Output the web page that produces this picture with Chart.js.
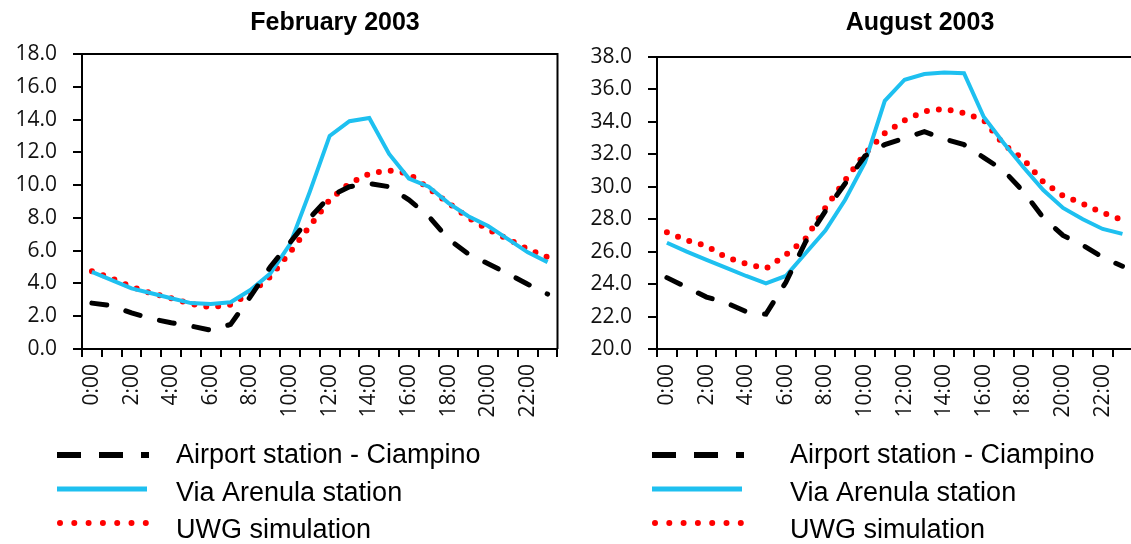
<!DOCTYPE html>
<html>
<head>
<meta charset="utf-8">
<script src="https://cdn.jsdelivr.net/npm/chart.js@4.4.1/dist/chart.umd.min.js"></script>
<style>
  html, body { margin: 0; padding: 0; background: #fff; overflow: hidden; }
  canvas { position: absolute; top: 0; }
  #feb { left: 0; }
  #aug { left: 575px; }
</style>
</head>
<body>
<canvas id="feb" width="580" height="544"></canvas>
<canvas id="aug" width="580" height="544"></canvas>
<script>
// horas del dia (eje x)
var hours = ['0:00','1:00','2:00','3:00','4:00','5:00','6:00','7:00','8:00','9:00','10:00','11:00',
             '12:00','13:00','14:00','15:00','16:00','17:00','18:00','19:00','20:00','21:00','22:00','23:00'];

var seriesNames = ['Airport station - Ciampino', 'Via Arenula station', 'UWG simulation'];

// Febrero 2003
var febAirport = [2.8, 2.65, 2.2, 1.85, 1.6, 1.4, 1.15, 1.5, 3.2, 5.0, 6.5, 8.0, 9.3, 9.9, 10.1, 9.9, 9.1, 8.1, 6.7, 5.8, 5.2, 4.6, 3.95, 3.35];
var febVia     = [4.7, 4.2, 3.7, 3.4, 3.1, 2.8, 2.75, 2.85, 3.6, 4.6, 6.4, 9.6, 13.0, 13.9, 14.1, 11.9, 10.4, 9.9, 8.9, 8.1, 7.5, 6.7, 5.9, 5.3];
var febUwg     = [4.75, 4.3, 3.8, 3.4, 3.1, 2.75, 2.55, 2.7, 3.4, 4.4, 5.9, 7.5, 9.1, 10.1, 10.7, 10.9, 10.7, 9.8, 8.9, 8.0, 7.3, 6.7, 6.1, 5.6];

// Agosto 2003
var augAirport = [24.4, 23.8, 23.2, 22.85, 22.3, 22.15, 24.1, 26.6, 28.5, 30.2, 31.9, 32.6, 33.0, 33.4, 32.95, 32.6, 31.8, 31.0, 29.7, 28.1, 27.0, 26.4, 25.65, 25.1];
var augVia     = [26.55, 26.0, 25.5, 25.0, 24.5, 24.05, 24.5, 25.9, 27.3, 29.2, 31.5, 35.3, 36.6, 36.95, 37.05, 37.0, 34.3, 32.7, 31.2, 29.8, 28.7, 28.0, 27.4, 27.1];
var augUwg     = [27.2, 26.7, 26.35, 25.65, 25.25, 24.95, 25.8, 26.8, 28.7, 30.4, 32.05, 33.3, 34.1, 34.65, 34.8, 34.55, 34.1, 32.6, 31.7, 30.3, 29.45, 28.95, 28.4, 27.95];

var febTicks = [0, 18];
var augTicks = [20, 38];

var BLUE = '#1ec0f0';
var RED = '#ff0000';

// marco superior/derecho, titulo y leyenda dibujados a mano
var frameAndKey = {
  id: 'frameAndKey',
  afterDraw: function (chart, args, opts) {
    var ctx = chart.ctx, a = chart.chartArea;
    ctx.save();
    ctx.strokeStyle = '#000';
    ctx.lineWidth = 2;
    ctx.beginPath();
    ctx.moveTo(a.left - 9, a.top);
    ctx.lineTo(a.right, a.top);
    ctx.lineTo(a.right, a.bottom);
    ctx.stroke();

    ctx.fillStyle = '#000';
    ctx.font = 'bold 25px "Liberation Sans"';
    ctx.textAlign = 'center';
    ctx.textBaseline = 'middle';
    ctx.fillText(opts.title, opts.titleX, 23);

    var rows = [456, 494, 531];
    var lineY = [455, 489, 523];
    chart.data.datasets.forEach(function (ds, i) {
      ctx.beginPath();
      ctx.strokeStyle = ds.borderColor;
      if (i === 0) {
        ctx.lineWidth = 6; ctx.lineCap = 'butt'; ctx.setLineDash([24, 18]);
        ctx.moveTo(opts.keyX, lineY[i]); ctx.lineTo(opts.keyX + 92, lineY[i]);
      } else if (i === 1) {
        ctx.lineWidth = 5; ctx.lineCap = 'butt'; ctx.setLineDash([]);
        ctx.moveTo(opts.keyX, lineY[i]); ctx.lineTo(opts.keyX + 90, lineY[i]);
      } else {
        ctx.lineWidth = 6; ctx.lineCap = 'round'; ctx.setLineDash([0, 14.3]);
        ctx.moveTo(opts.keyX + 3, lineY[i]); ctx.lineTo(opts.keyX + 90, lineY[i]);
      }
      ctx.stroke();
      ctx.setLineDash([]);
      ctx.fillStyle = '#000';
      ctx.font = '27px "Liberation Sans"';
      ctx.textAlign = 'left';
      ctx.fillText(ds.label, opts.textX, rows[i]);
    });
    ctx.restore();
  }
};

function makeDatasets(airport, via, uwg) {
  return [
    { label: seriesNames[0], data: airport, borderColor: '#000', borderWidth: 5,
      borderDash: [15, 20], borderCapStyle: 'round', pointRadius: 0, tension: 0 },
    { label: seriesNames[1], data: via, borderColor: BLUE, borderWidth: 4,
      pointRadius: 0, tension: 0 },
    { label: seriesNames[2], data: uwg, borderColor: RED, borderWidth: 6,
      borderDash: [0, 12], borderCapStyle: 'round', pointRadius: 0, tension: 0 }
  ];
}

function makeChart(id, datasets, range, padTop, padRight, extra) {
  var tickFont = { family: 'Open Sans', size: 21 };
  return new Chart(document.getElementById(id), {
    type: 'line',
    data: { labels: hours, datasets: datasets },
    options: {
      responsive: false,
      animation: false,
      events: [],
      layout: { padding: { top: padTop, right: padRight, left: 0, bottom: 0 } },
      plugins: { legend: { display: false }, tooltip: { enabled: false }, frameAndKey: extra },
      scales: {
        x: {
          offset: true,
          ticks: {
            autoSkip: false, minRotation: 90, maxRotation: 90, padding: 7,
            color: '#111', font: tickFont,
            callback: function (v, i) { return i % 2 ? '' : this.getLabelForValue(v); }
          },
          grid: { offset: true, drawOnChartArea: false, tickLength: 8, color: '#000', lineWidth: 2 },
          border: { color: '#000', width: 2 },
          afterFit: function (s) { s.height = 195; }
        },
        y: {
          min: range[0], max: range[1],
          ticks: {
            stepSize: 2, padding: 16, color: '#111', font: tickFont,
            callback: function (v) { return v.toFixed(1); }
          },
          grid: { drawOnChartArea: false, tickLength: 9, color: '#000', lineWidth: 2 },
          border: { color: '#000', width: 2 },
          afterFit: function (s) { s.width = 82; }
        }
      }
    },
    plugins: [frameAndKey]
  });
}

makeChart('feb', makeDatasets(febAirport, febVia, febUwg), febTicks, 54, 10,
  { title: 'February 2003', titleX: 335, keyX: 57, textX: 176 });
makeChart('aug', makeDatasets(augAirport, augVia, augUwg), augTicks, 57, 16,
  { title: 'August 2003', titleX: 345, keyX: 77, textX: 215 });
</script>
</body>
</html>
